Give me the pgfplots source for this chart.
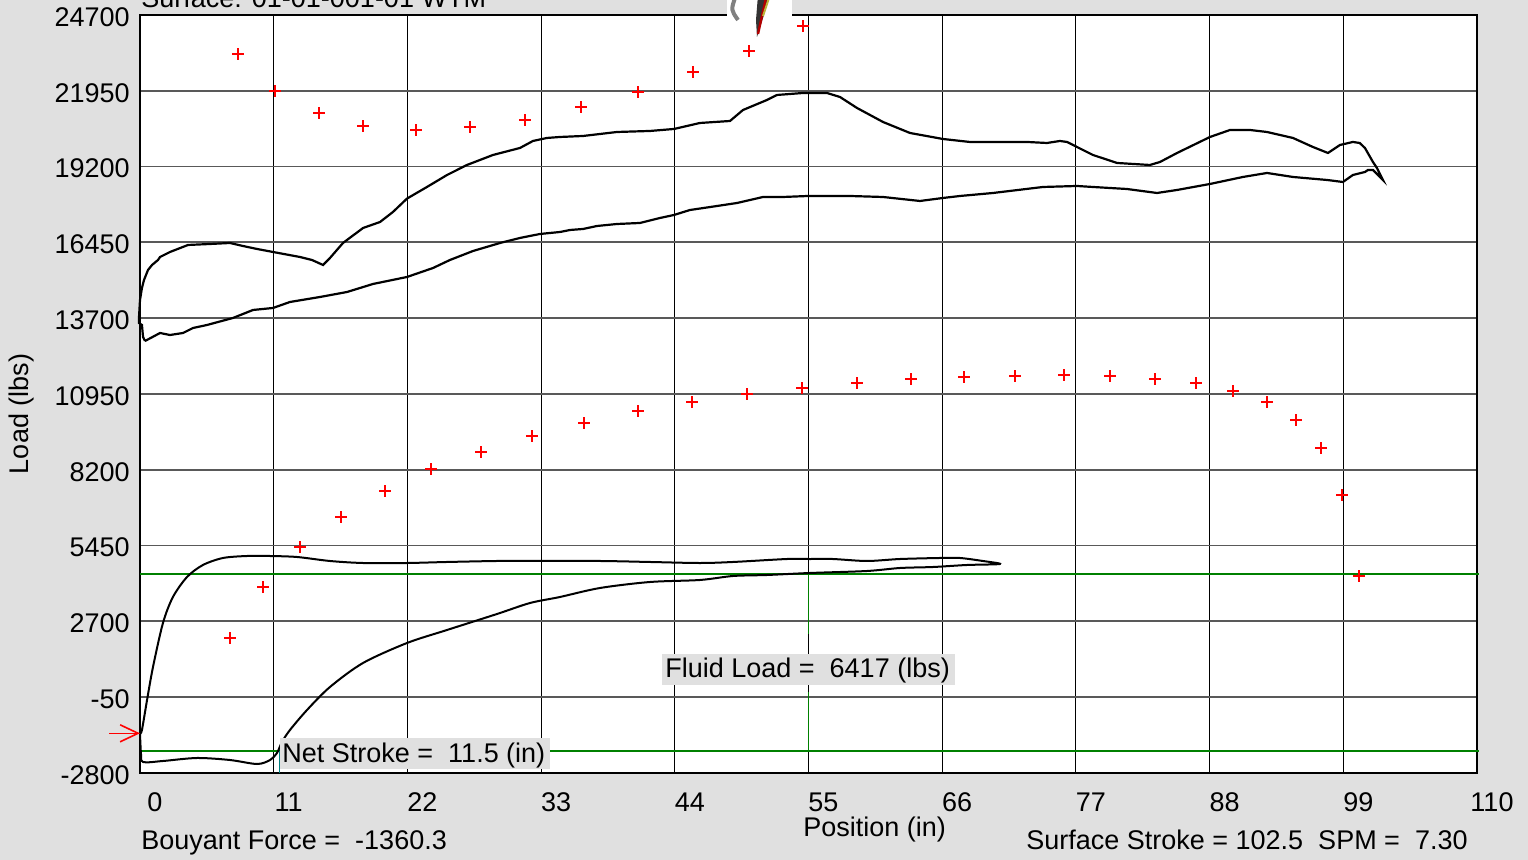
\documentclass[border=0pt]{standalone}
\usepackage{pgfplots}
\pgfplotsset{compat=1.18}
\usepackage{pgfplotstable}
\usepackage{fontspec}
\setmainfont{Liberation Sans}
\usetikzlibrary{arrows.meta}
\definecolor{bggray}{RGB}{224,224,224}
\definecolor{cardgreen}{RGB}{0,128,0}

\pgfplotstableread{
x y
0.41 12872
0.25 13018
0.16 13453
-0.08 13526
-0.08 13744
0.00 14360
0.16 14796
0.33 15086
0.66 15449
0.99 15630
1.48 15811
1.65 15920
2.47 16102
3.95 16356
5.76 16392
7.40 16428
8.47 16319
9.63 16211
10.94 16102
13.16 15920
14.15 15811
15.06 15630
15.63 15884
16.70 16428
18.35 16972
19.75 17190
20.81 17553
21.97 18040
23.61 18460
25.26 18895
26.90 19258
29.04 19621
31.26 19875
32.33 20129
33.48 20238
34.55 20274
36.45 20310
39.24 20455
41.96 20492
43.93 20564
46.07 20782
48.54 20854
49.61 21253
51.58 21616
52.41 21798
54.55 21870
56.52 21870
57.59 21725
58.99 21326
61.13 20818
63.35 20419
66.06 20201
68.28 20093
70.18 20093
72.97 20093
74.62 20056
75.69 20129
76.27 20093
77.09 19911
78.40 19621
80.38 19331
83.09 19258
83.92 19367
85.32 19693
88.03 20274
89.68 20528
91.32 20528
92.72 20455
94.86 20238
96.50 19911
97.74 19693
98.73 19984
99.79 20093
100.35 20056
100.78 19875
101.44 19367
101.77 19149
102.26 18714
101.44 19077
101.03 19077
100.78 19004
99.79 18895
98.97 18641
97.66 18714
94.86 18823
92.72 18968
90.74 18823
88.03 18569
85.32 18351
83.67 18242
81.20 18387
78.40 18460
77.09 18496
74.29 18460
70.18 18242
67.46 18133
66.06 18061
64.17 17952
61.13 18097
58.41 18133
54.96 18133
52.90 18097
51.26 18097
49.12 17879
47.47 17770
45.25 17625
43.93 17444
42.78 17335
41.13 17154
39.24 17117
37.60 17045
36.45 16936
35.38 16900
34.55 16827
32.91 16755
31.26 16610
29.62 16428
27.40 16138
25.50 15811
24.11 15521
21.97 15195
19.17 14941
17.03 14650
14.81 14469
12.34 14288
10.94 14070
9.30 13998
7.65 13708
5.51 13453
4.36 13344
3.54 13163
2.47 13090
1.65 13163
0.41 12872
}\surfacecard

\pgfplotstableread{
x y
0 -1360
0.08 -2075
0.25 -2401
1.89 -2365
4.69 -2256
7.40 -2329
9.63 -2474
10.70 -2329
11.27 -2075
11.68 -1676
12.34 -1240
13.74 -515
15.63 320
18.35 1191
21.97 1916
25.26 2388
29.37 2968
32.09 3367
34.55 3585
37.84 3911
41.96 4129
46.07 4202
48.79 4347
51.58 4383
55.12 4456
59.81 4528
62.53 4637
65.24 4673
68.04 4746
70.75 4782
69.35 4891
67.46 5000
65.82 5000
62.53 4963
59.81 4891
57.01 4963
55.12 4963
53.23 4963
48.79 4855
46.07 4818
41.96 4855
37.84 4891
32.09 4891
29.37 4891
25.26 4855
21.97 4818
18.35 4818
15.63 4891
12.92 5036
10.70 5072
8.80 5072
6.83 5000
5.18 4746
3.87 4311
2.71 3585
1.89 2642
1.07 1046
0.58 -152
0.16 -1240
0 -1360
}\pumpcard

\pgfplotstableread{
x y
8.06 23285
11.11 21943
14.73 21145
18.35 20673
22.71 20528
27.15 20637
31.67 20891
36.28 21362
40.97 21906
45.50 22632
50.10 23394
54.55 24301
}\permupper

\pgfplotstableread{
x y
7.40 2098
10.12 3948
13.16 5399
16.54 6487
20.16 7431
23.94 8229
28.06 8846
32.25 9426
36.53 9898
40.97 10333
45.41 10660
49.94 10950
54.46 11168
58.99 11349
63.43 11494
67.79 11567
71.99 11603
76.02 11639
79.80 11603
83.50 11494
86.88 11349
89.92 11059
92.72 10660
95.11 10007
97.16 8991
98.89 7286
100.29 4347
}\permlower

\begin{document}
\begin{tikzpicture}[font=\fontsize{13.5}{16}\selectfont]
\path[use as bounding box, fill=bggray] (0,0) rectangle (764pt,430pt);
\begin{axis}[
  at={(70pt,43.5pt)}, anchor=south west,
  scale only axis, width=668.5pt, height=379pt,
  xmin=0, xmax=110, ymin=-2800, ymax=24700,
  clip=false,
  axis background/.style={fill=white},
  axis line style={black, line width=0.8pt},
  xtick={0,11,22,33,44,55,66,77,88,99,110},
  xticklabels={0,11,22,33,44,55,66,77,88,99,110},
  ytick={-2800,-50,2700,5450,8200,10950,13700,16450,19200,21950,24700},
  yticklabels={-2800,-50,2700,5450,8200,10950,13700,16450,19200,21950,24700},
  major tick length=0pt,
  grid=major,
  x grid style={black, line width=0.5pt},
  y grid style={black!65, line width=0.9pt},
  xticklabel style={anchor=base, yshift=-19.5pt, xshift=7.5pt, inner sep=0pt},
  yticklabel style={anchor=east, xshift=-5pt, yshift=-1pt, inner sep=0pt},
]
\addplot[cardgreen, line width=1pt] coordinates {(0,4417) (110.2,4417)};
\addplot[cardgreen, line width=1pt] coordinates {(0,-2000) (110.2,-2000)};
\addplot[cardgreen, line width=0.8pt] coordinates {(55,4417) (55,2243)};
\addplot[cardgreen, line width=0.8pt] coordinates {(55,138) (55,-2000)};
\addplot[teal, line width=0.5pt] coordinates {(11.5,-2000) (11.5,-2800)};
\addplot[black, line width=1.1pt] table {\surfacecard};
\addplot[black, line width=1pt, smooth, tension=0.5] table {\pumpcard};
\addplot[only marks, red, mark=+, mark size=2.8pt, line width=1.1pt] table {\permupper};
\addplot[only marks, red, mark=+, mark size=2.8pt, line width=1.1pt] table {\permlower};
\addplot[red, line width=0.8pt, -{Straight Barb[length=9pt, width=8.5pt]}] coordinates {(-2.55,-1360.3) (0,-1360.3)};
\end{axis}
\begin{scope}[x=0.5pt, y=-0.5pt, shift={(0pt,430pt)}]
\node[anchor=base west, inner sep=0pt] at (141,8) {Surface: 01-01-001-01 WTM};
\node[anchor=base west, inner sep=0pt] at (141,850) {Bouyant Force =\ \ -1360.3};
\node[anchor=base east, inner sep=0pt] at (1468,850) {Surface Stroke = 102.5\ \ SPM =\ \ 7.30};
\node[anchor=base west, inner sep=0pt] at (803,837) {Position (in)};
\node[rotate=90, inner sep=0pt] at (22,414) {Load (lbs)};
\fill[bggray] (280,738) rectangle (550,769);
\node[anchor=base west, inner sep=0pt] at (282,763) {Net Stroke =\ \ 11.5 (in)};
\fill[bggray] (662,654) rectangle (955,685);
\node[anchor=base west, inner sep=0pt] at (665,678) {Fluid Load =\ \ 6417 (lbs)};
\fill[white] (727,-5) rectangle (792,39);
\draw[gray, line width=2pt] (735,-2) .. controls (731,10) .. (738,20);
\fill[black!80] (758,-5) -- (770,-5) -- (764,15) -- (757,37) -- (756,20) -- cycle;
\draw[red!70!black, line width=1.2pt] (766,-2) -- (758,34);
\draw[yellow!70!black, line width=1pt] (769,-2) -- (763,16);
\end{scope}
\end{tikzpicture}
\end{document}
